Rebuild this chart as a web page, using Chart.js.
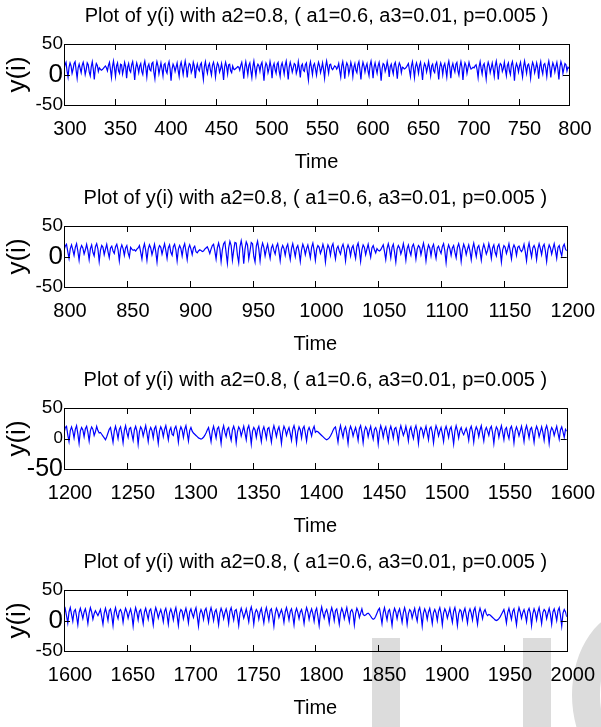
<!DOCTYPE html>
<html>
<head>
<meta charset="utf-8">
<script src="https://cdn.jsdelivr.net/npm/chart.js@4.4.0/dist/chart.umd.min.js"></script>
<style>
  body { margin: 0; background: #fff; width: 601px; height: 727px; overflow: hidden; position: relative; }
  canvas { position: absolute; left: 0; z-index: 1; }
  .wm { position: absolute; background: #dcdcdc; z-index: 0; }
</style>
</head>
<body>
<!-- grey watermark fragments at the bottom right -->
<div class="wm" style="left:372px; top:638px; width:28px; height:89px"></div>
<div class="wm" style="left:523px; top:638px; width:28px; height:89px"></div>
<div class="wm" style="left:572px; top:610px; width:120px; height:170px; background:none; border:28px solid #dcdcdc; border-radius:50%; box-sizing:border-box"></div>

<canvas id="c1" width="601" height="182" style="top:0px"></canvas>
<canvas id="c2" width="601" height="182" style="top:182px"></canvas>
<canvas id="c3" width="601" height="182" style="top:364px"></canvas>
<canvas id="c4" width="601" height="182" style="top:546px"></canvas>

<script>
// textes
const titleText = 'Plot of y(i) with a2=0.8, ( a1=0.6, a3=0.01, p=0.005 )';
const xLabel = 'Time';
const yLabel = 'y(i)';
const yTicks = [-50, 0, 50];

// bornes des axes x (debut, fin)
const range1 = [300, 800];
const range2 = [800, 1200];
const range3 = [1200, 1600];
const range4 = [1600, 2000];

// y(i), un point par pas de temps
const y1 = [
  8, 16, 20, 6, -4, 12, 19, 14, 2, 9, 18, 21, 7, -6, 11, 17, 10, 3, 15, 20,
  12, 0, 8, 19, 16, 4, -2, 13, 21, 9, -8, 10, 18, 15, 5, 11, 9, 7, 8, 10,
  12, 14, 11, 6, 15, 20, 8, -5, 13, 22, 10, -3, 14, 19, 6, 2, 17, 16, 1, 9,
  20, 13, -6, 12, 18, 7, 4, 16, 21, 9, -9, 11, 19, 12, 3, 14, 18, 5, 0, 15,
  22, 11, -4, 13, 17, 8, 6, 18, 20, 4, -7, 12, 21, 14, 1, 10, 19, 9, -2, 16,
  18, 6, 2, 15, 21, 10, -10, 9, 17, 13, 5, 12, 19, 7, -3, 14, 20, 11, 0, 13,
  22, 12, -5, 11, 18, 16, 3, 8, 20, 14, -6, 10, 17, 9, 6, 16, 19, 5, -8, 13,
  21, 10, 2, 14, 18, 7, -1, 15, 20, 12, -4, 11, 19, 15, 4, 9, 18, 8, -9, 12,
  20, 13, 1, 16, 17, 6, 3, 14, 9, 8, 10, 11, 13, 12, 7, 15, 20, 9, -7, 12,
  21, 11, 0, 15, 19, 6, -5, 13, 22, 10, -2, 12, 17, 14, 5, 16, 20, 7, -10, 11,
  19, 15, 3, 10, 21, 12, -6, 13, 18, 8, 2, 17, 20, 6, -3, 14, 19, 11, 1, 15,
  22, 9, -8, 12, 20, 13, 4, 11, 18, 16, 2, 8, 21, 10, -5, 14, 17, 7, 5, 16,
  19, 4, -9, 13, 21, 11, 0, 15, 18, 9, -1, 12, 20, 14, 3, 10, 19, 8, -6, 13,
  22, 12, 2, 16, 17, 10, 8, 11, 14, 13, 9, 12, 18, 6, -4, 14, 21, 10, -7, 12,
  19, 15, 1, 9, 20, 13, -3, 12, 18, 7, 3, 16, 21, 8, -8, 11, 20, 14, 4, 13,
  18, 6, -2, 15, 22, 11, -6, 12, 19, 10, 2, 14, 20, 9, -10, 10, 18, 16, 5, 11,
  21, 12, -4, 13, 17, 8, 1, 16, 20, 10, -7, 12, 19, 15, 3, 12, 11, 9, 10, 12,
  15, 18, 7, -3, 14, 21, 9, -5, 13, 19, 12, 2, 15, 20, 7, -9, 11, 18, 14, 4,
  12, 21, 10, -2, 14, 17, 6, 3, 16, 20, 9, -8, 12, 19, 13, 0, 14, 18, 8, -4,
  15, 22, 11, -6, 12, 18, 10, 4, 17, 20, 6, -1, 13, 21, 12, -9, 10, 19, 15, 2,
  11, 20, 13, 9, 10, 12, 11, 14, 16, 8, -5, 13, 21, 10, 1, 15, 18, 7, -7, 12,
  20, 14, 3, 11, 19, 9, -3, 14, 22, 11, -8, 12, 18, 16, 5, 10, 20, 8, -2, 15,
  19, 6, 0, 16, 21, 10, -10, 11, 18, 13, 4, 14, 20, 7, -4, 13, 22, 12, 2, 15,
  17, 9, -6, 12, 20, 15, 3, 10, 19, 11, -7, 13, 21, 8, 1, 16, 18, 10, -3, 14,
  22, 12, -5, 11, 19, 14, 4, 13, 20, 9, -8, 12, 21, 15, 2, 10, 18, 16, 6, 12,
  10
];

const y2 = [
  10, 17, 20, 8, -3, 13, 19, 11, 2, 15, 21, 9, -6, 12, 18, 14, 4, 11, 20, 10,
  -5, 13, 19, 7, 1, 16, 21, 12, -8, 10, 18, 15, 3, 12, 20, 8, -2, 14, 17, 9,
  5, 16, 20, 11, -7, 12, 19, 13, 2, 14, 18, 6, -1, 15, 12, 10, 11, 9, 12, 14,
  18, 7, -4, 13, 21, 10, -6, 12, 19, 14, 3, 11, 20, 8, -9, 12, 18, 15, 4, 13,
  21, 10, -3, 14, 19, 7, 2, 16, 20, 11, -7, 12, 18, 13, 1, 15, 21, 9, -5, 13,
  19, 12, 3, 14, 17, 8, 6, 9, 11, 10, 8, 9, 12, 14, 16, 11, 5, 12, 18, 20,
  9, -4, 14, 22, 13, -8, 11, 21, 24, 6, -11, 14, 25, 18, -6, 10, 23, 22, 2, -10,
  16, 26, 14, -12, 12, 24, 19, -4, 9, 23, 21, 0, -9, 17, 25, 12, -7, 13, 22, 15,
  1, 12, 20, 8, -3, 14, 19, 10, 4, 16, 21, 9, -7, 12, 18, 13, 2, 15, 20, 7,
  -5, 13, 21, 11, 0, 14, 18, 8, -8, 11, 20, 14, 3, 13, 19, 9, -2, 15, 22, 10,
  -6, 12, 18, 15, 5, 11, 20, 12, -9, 10, 19, 14, 2, 16, 21, 8, -4, 13, 17, 9,
  4, 15, 20, 11, -7, 12, 19, 13, 1, 14, 18, 7, -3, 16, 22, 10, -8, 11, 19, 15,
  3, 12, 20, 9, -1, 14, 18, 11, 6, 13, 10, 9, 11, 15, 19, 8, -5, 13, 21, 12,
  -2, 15, 20, 7, -9, 12, 18, 14, 4, 11, 21, 10, -6, 13, 19, 9, 2, 16, 20, 12,
  -4, 12, 18, 15, 3, 13, 22, 11, -7, 10, 19, 14, 1, 15, 20, 8, -3, 14, 17, 10,
  5, 16, 21, 9, -10, 11, 19, 13, 2, 14, 18, 7, -2, 15, 21, 12, -8, 11, 20, 14,
  3, 12, 19, 9, -5, 13, 22, 11, 0, 15, 18, 8, -6, 12, 20, 13, 4, 10, 21, 12,
  -3, 14, 19, 7, 1, 16, 20, 10, -9, 11, 18, 15, 5, 12, 21, 9, -4, 13, 19, 14,
  2, 15, 17, 11, 8, 12, 20, 8, -7, 13, 22, 10, -1, 14, 18, 12, -5, 12, 21, 13,
  3, 16, 20, 9, -8, 11, 19, 14, 4, 13, 21, 10, -3, 15, 18, 8, 1, 16, 20, 12,
  9
];

const y3 = [
  9, 18, 20, 6, -5, 13, 19, 12, 1, 15, 21, 8, -8, 12, 18, 14, 3, 16, 20, 10,
  -4, 13, 19, 15, 5, 11, 20, 13, 9, 10, 7, 4, 1, -2, 3, 9, 15, 18, 6, -6,
  12, 20, 11, 0, 15, 19, 8, -7, 13, 21, 10, 2, 16, 18, 7, -3, 14, 20, 12, -9,
  11, 19, 15, 4, 13, 21, 9, -5, 12, 18, 13, 1, 16, 20, 8, -8, 12, 19, 14, 3,
  15, 21, 10, -2, 13, 18, 7, 5, 16, 20, 11, -6, 12, 19, 14, 2, 15, 21, 9, -4,
  13, 18, 12, 9, 7, 5, 3, 1, 0, -1, 0, 2, 5, 9, 14, 18, 7, -5, 12, 20,
  11, 1, 16, 19, 8, -8, 13, 21, 10, 3, 15, 18, 6, -3, 14, 20, 13, -7, 11, 19,
  15, 4, 12, 20, 9, -2, 16, 21, 10, -9, 12, 18, 14, 2, 15, 20, 8, -5, 13, 19,
  11, 0, 16, 18, 7, -6, 12, 21, 13, 3, 14, 19, 9, -8, 11, 20, 15, 5, 13, 18,
  8, -3, 15, 21, 12, -7, 11, 19, 14, 1, 16, 20, 9, -4, 13, 18, 12, 4, 15, 20,
  10, 12, 11, 9, 7, 5, 3, 1, -1, -2, -1, 1, 4, 8, 13, 17, 19, 7, -6, 12,
  21, 11, 2, 15, 19, 8, -8, 13, 20, 14, 4, 12, 18, 9, -3, 16, 21, 10, -7, 12,
  19, 15, 3, 13, 20, 8, -1, 15, 18, 11, -9, 11, 21, 14, 2, 14, 19, 7, -5, 13,
  20, 12, 1, 16, 18, 9, -6, 12, 21, 13, 5, 11, 20, 10, -4, 14, 19, 8, 0, 15,
  21, 11, -8, 12, 18, 14, 3, 13, 20, 9, -2, 16, 19, 10, -7, 11, 21, 15, 4, 12,
  18, 8, -5, 14, 20, 12, 2, 15, 19, 7, -9, 12, 21, 13, 1, 13, 18, 10, 6, 12,
  17, 9, -3, 15, 20, 11, -6, 12, 19, 14, 3, 14, 21, 8, -4, 13, 18, 12, 5, 16,
  20, 9, -8, 11, 19, 15, 2, 13, 21, 10, -2, 15, 18, 7, 0, 16, 20, 11, -7, 12,
  19, 13, 4, 12, 20, 9, -5, 14, 21, 12, 1, 15, 18, 8, -6, 13, 20, 14, 3, 11,
  19, 10, -3, 15, 21, 12, -8, 11, 18, 14, 5, 13, 20, 9, -1, 14, 19, 11, 2, 15,
  12
];

const y4 = [
  12, 19, 8, -4, 14, 21, 10, -1, 15, 18, 7, -7, 13, 20, 12, 3, 14, 19, 9, -5,
  12, 21, 14, 2, 11, 16, 12, 8, 13, 18, 6, -6, 12, 20, 11, 0, 16, 19, 8, -8,
  13, 21, 10, 3, 15, 18, 12, -3, 12, 20, 14, 4, 13, 19, 9, -9, 11, 21, 13, 1,
  15, 18, 7, -5, 14, 20, 11, 2, 16, 19, 8, -7, 12, 21, 14, 4, 12, 18, 10, -2,
  15, 20, 9, -6, 13, 19, 12, 1, 14, 21, 8, -8, 12, 18, 15, 3, 13, 20, 10, -4,
  14, 19, 11, 5, 15, 21, 7, -9, 11, 18, 13, 2, 16, 20, 9, -3, 13, 21, 12, 0,
  14, 18, 8, -7, 12, 20, 14, 3, 13, 19, 10, -5, 15, 21, 11, 1, 16, 18, 7, -8,
  12, 20, 13, 4, 11, 19, 9, -2, 15, 22, 12, -6, 12, 18, 14, 2, 14, 20, 8, -4,
  13, 21, 11, 0, 16, 19, 7, -9, 11, 20, 15, 5, 12, 18, 10, -3, 14, 21, 12, 1,
  15, 19, 8, -7, 13, 20, 13, 3, 14, 18, 9, -5, 12, 21, 14, 2, 13, 19, 11, -1,
  15, 20, 7, -8, 12, 22, 12, 4, 14, 18, 10, -4, 13, 21, 13, 0, 16, 19, 8, -6,
  12, 20, 14, 3, 13, 21, 9, -2, 15, 18, 12, -7, 11, 20, 15, 5, 12, 19, 10, 8,
  9, 11, 12, 10, 7, 4, 2, 3, 7, 12, 17, 20, 8, -5, 13, 21, 11, 1, 15, 18,
  7, -8, 12, 20, 14, 3, 14, 19, 9, -3, 13, 21, 12, -6, 11, 18, 15, 4, 13, 20,
  8, -1, 16, 21, 10, -9, 12, 19, 13, 2, 14, 20, 9, -5, 13, 18, 12, 0, 15, 21,
  11, -7, 12, 19, 14, 4, 12, 20, 8, -3, 15, 21, 10, -8, 11, 18, 15, 2, 14, 20,
  9, -4, 13, 19, 12, 1, 16, 21, 8, -6, 12, 20, 13, 3, 14, 18, 11, 8, 10, 9,
  7, 5, 3, 1, 0, 1, 3, 6, 10, 14, 18, 9, -4, 13, 20, 11, 2, 15, 19, 7,
  -7, 12, 21, 14, 4, 13, 18, 10, -2, 15, 20, 12, -8, 11, 19, 13, 1, 14, 21, 9,
  -5, 13, 18, 15, 3, 12, 20, 10, -6, 14, 19, 11, 0, 16, 21, 8, -9, 12, 18, 14,
  6
];

Chart.defaults.font.family = "'Liberation Sans', Arial, sans-serif";
Chart.defaults.color = '#000';

// cadre noir + graduations vers l'interieur (style matlab)
const boxTicks = {
  id: 'boxTicks',
  afterDraw(chart) {
    const { ctx, chartArea: a, scales: { x, y } } = chart;
    const len = 6;
    ctx.save();
    ctx.strokeStyle = '#000';
    ctx.lineWidth = 1;
    ctx.strokeRect(Math.round(a.left) + 0.5, Math.round(a.top) + 0.5,
                   Math.round(a.width), Math.round(a.height));
    ctx.beginPath();
    x.ticks.forEach(t => {
      const px = Math.round(x.getPixelForValue(t.value)) + 0.5;
      ctx.moveTo(px, a.bottom); ctx.lineTo(px, a.bottom - len);
      ctx.moveTo(px, a.top); ctx.lineTo(px, a.top + len);
    });
    y.ticks.forEach(t => {
      const py = Math.round(y.getPixelForValue(t.value)) + 0.5;
      ctx.moveTo(a.left, py); ctx.lineTo(a.left + len, py);
      ctx.moveTo(a.right, py); ctx.lineTo(a.right - len, py);
    });
    ctx.stroke();
    ctx.restore();
  }
};

function makePlot(id, range, values, sizes) {
  const pts = values.map((v, i) => ({ x: range[0] + i, y: v }));
  new Chart(document.getElementById(id), {
    type: 'line',
    data: {
      datasets: [{
        data: pts,
        borderColor: '#0000ff',
        borderWidth: 1.2,
        pointRadius: 0,
        tension: 0,
        fill: false
      }]
    },
    options: {
      responsive: false,
      animation: false,
      devicePixelRatio: 1,
      layout: { padding: { left: 0, right: 32, top: 0, bottom: 0 } },
      plugins: {
        legend: { display: false },
        tooltip: { enabled: false },
        title: {
          display: true,
          text: titleText,
          fullSize: false,
          font: { size: 20, weight: 'normal' },
          padding: { top: 4, bottom: 16 }
        }
      },
      scales: {
        x: {
          type: 'linear',
          min: range[0],
          max: range[1],
          grid: { display: false, drawTicks: false },
          border: { display: false },
          ticks: {
            stepSize: 50, autoSkip: false, maxRotation: 0, padding: 12,
            labelOffset: 6,
            font: { size: 20 },
            callback: v => String(v)
          },
          title: { display: true, text: xLabel, font: { size: 20 }, padding: { top: 0, bottom: 8 } },
          afterFit: s => { s.height = 77; }
        },
        y: {
          min: -50,
          max: 50,
          afterBuildTicks: s => { s.ticks = yTicks.map(v => ({ value: v })); },
          grid: { display: false, drawTicks: false },
          border: { display: false },
          ticks: {
            padding: 1,
            autoSkip: false,
            callback: v => String(v),
            font: c => ({ size: sizes[String(c.tick ? c.tick.value : 50)] || 19 })
          },
          title: { display: true, text: yLabel, font: { size: 26 }, padding: { top: 2, bottom: 0 } },
          afterFit: s => { s.width = 64; }
        }
      }
    },
    plugins: [boxTicks]
  });
}

makePlot('c1', range1, y1, { '50': 19, '0': 26, '-50': 19 });
makePlot('c2', range2, y2, { '50': 19, '0': 26, '-50': 19 });
makePlot('c3', range3, y3, { '50': 19, '0': 17, '-50': 25 });
makePlot('c4', range4, y4, { '50': 19, '0': 26, '-50': 19 });
</script>
</body>
</html>
